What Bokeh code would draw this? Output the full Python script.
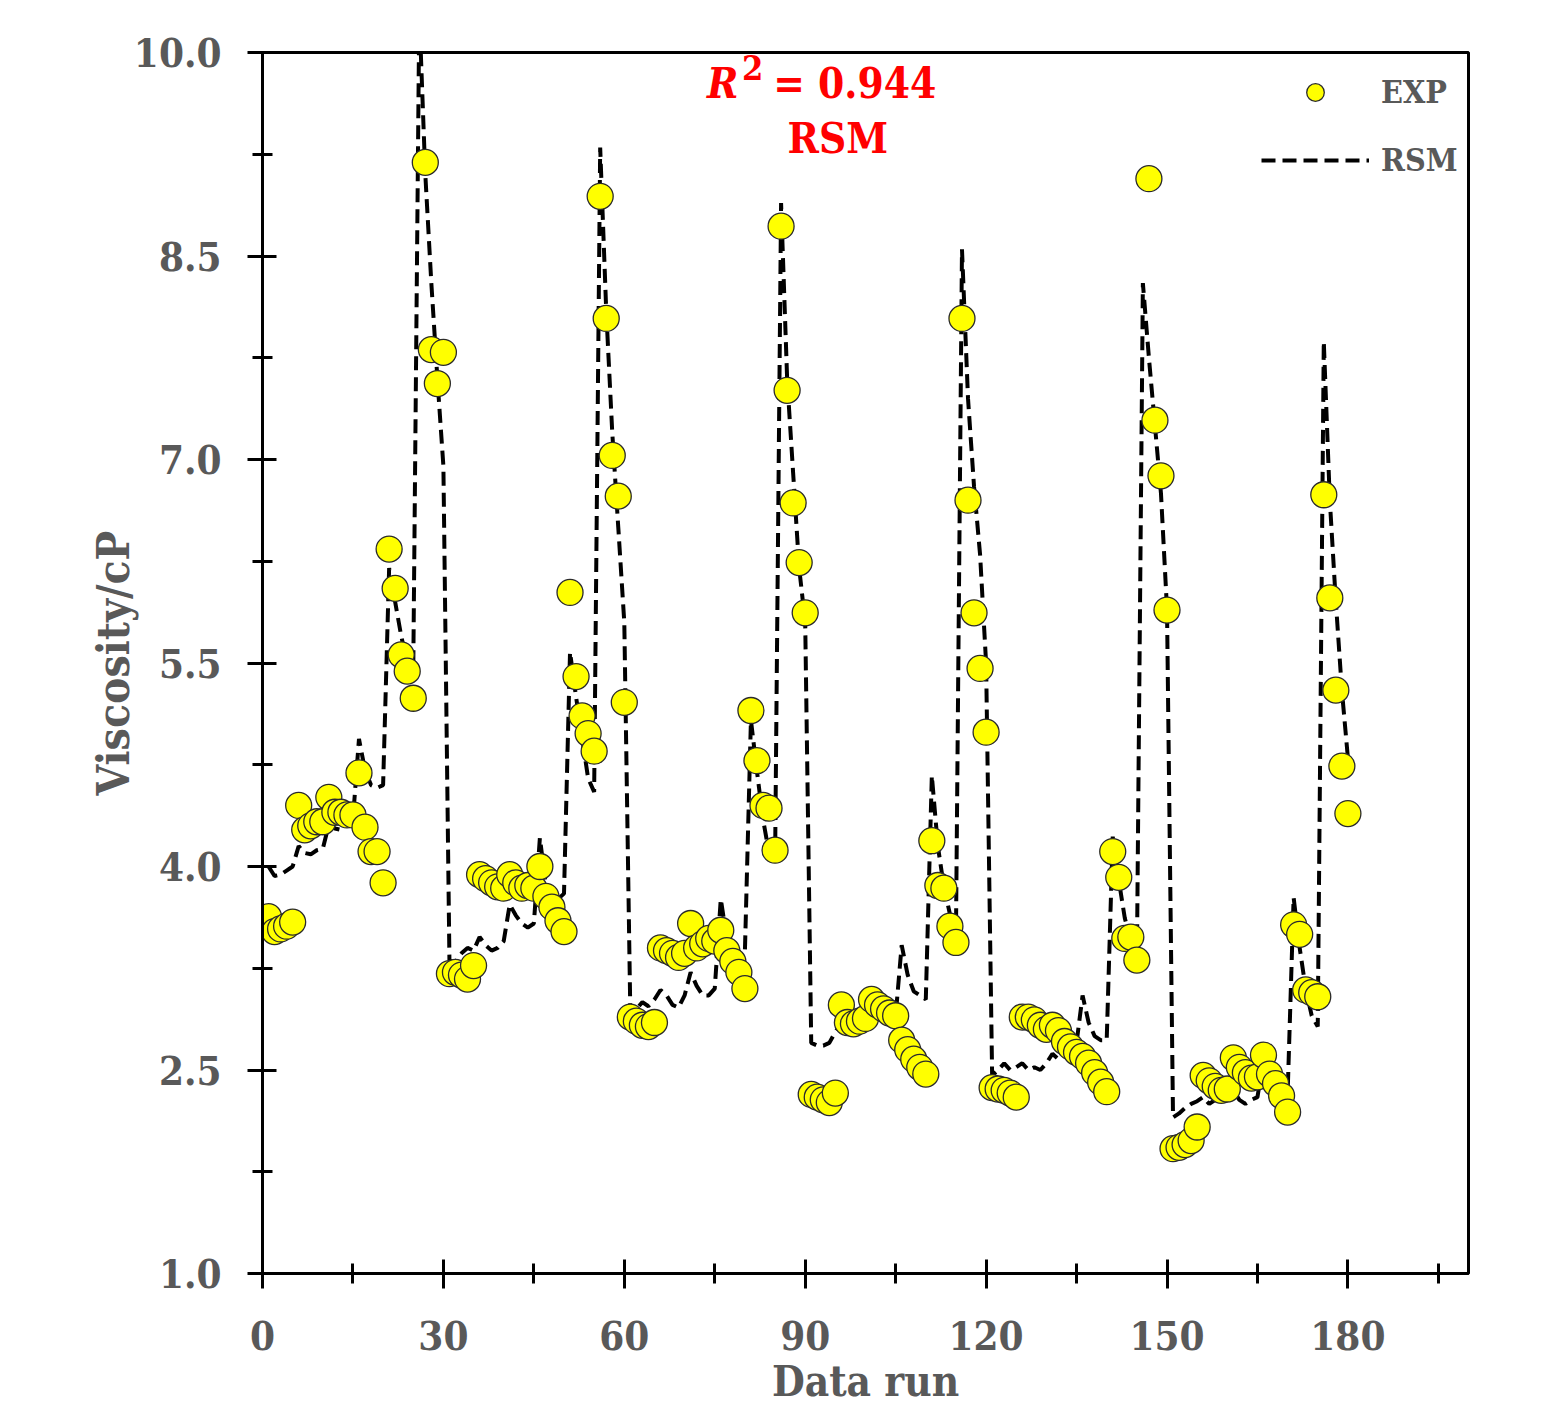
import numpy as np
from bokeh.plotting import figure
from bokeh.models import (FixedTicker, PrintfTickFormatter, Label, Legend,
                          LegendItem, ColumnDataSource)
from bokeh.embed import file_html
from bokeh.resources import INLINE

# ---------------- data ----------------
nan = float("nan")

# experimental viscosity (cP), six blocks of 30 runs
exp_block1 = [3.63, 3.52, 3.54, 3.56, 3.59, 4.45, 4.27, 4.30, 4.33, 4.33,
              4.51, 4.40, 4.40, 4.38, 4.38, 4.69, 4.29, 4.11, 4.11, 3.88,
              6.34, 6.05, 5.56, 5.44, 5.24, nan, 9.19, 7.81, 7.56, 7.79]
exp_block2 = [3.21, 3.22, 3.20, 3.17, 3.27, 3.94, 3.91, 3.88, 3.85, 3.84,
              3.94, 3.88, 3.84, 3.86, 3.84, 4.00, 3.78, 3.70, 3.60, 3.52,
              6.02, 5.40, 5.11, 4.98, 4.85, 8.94, 8.04, 7.03, 6.73, 5.21]
exp_block3 = [2.89, 2.86, 2.83, 2.82, 2.85, 3.40, 3.38, 3.36, 3.33, 3.36,
              3.58, 3.40, 3.43, 3.47, 3.45, 3.53, 3.38, 3.30, 3.22, 3.10,
              5.15, 4.78, 4.45, 4.43, 4.12, 8.72, 7.51, 6.68, 6.24, 5.87]
exp_block4 = [2.32, 2.30, 2.28, 2.26, 2.33, 2.98, 2.85, 2.84, 2.86, 2.88,
              3.02, 2.98, 2.95, 2.92, 2.90, 2.72, 2.65, 2.58, 2.52, 2.47,
              4.19, 3.86, 3.84, 3.56, 3.44, 8.04, 6.70, 5.87, 5.46, 4.99]
exp_block5 = [2.37, 2.36, 2.35, 2.33, 2.30, 2.89, 2.89, 2.87, 2.83, 2.80,
              2.83, 2.79, 2.71, 2.67, 2.63, 2.60, 2.55, 2.48, 2.41, 2.34,
              4.11, 3.92, 3.47, 3.48, 3.31, nan, 9.07, 7.29, 6.88, 5.89]
exp_block6 = [1.92, 1.93, 1.95, 1.98, 2.08, 2.46, 2.42, 2.38, 2.35, 2.36,
              2.59, 2.52, 2.48, 2.44, 2.45, 2.61, 2.47, 2.40, 2.31, 2.19,
              3.57, 3.50, 3.09, 3.07, 3.04, 6.74, 5.98, 5.30, 4.74, 4.39]

# RSM model prediction (cP)
rsm_block1 = [4.00, 3.93, 3.94, 3.97, 4.00, 4.15, 4.10, 4.09, 4.12, 4.13,
              4.31, 4.28, 4.27, 4.31, 4.35, 4.94, 4.71, 4.60, 4.58, 4.60,
              6.20, 5.95, 5.70, 5.50, 5.44, 10.30, 9.10, 8.30, 7.60, 6.95]
rsm_block2 = [3.31, 3.30, 3.36, 3.40, 3.38, 3.48, 3.42, 3.38, 3.40, 3.45,
              3.72, 3.64, 3.58, 3.55, 3.58, 4.21, 3.86, 3.78, 3.76, 3.80,
              5.58, 5.25, 4.95, 4.65, 4.55, 9.30, 8.10, 7.20, 6.50, 5.80]
rsm_block3 = [2.92, 2.95, 3.00, 2.97, 3.02, 3.09, 3.05, 2.98, 2.96, 3.05,
              3.22, 3.12, 3.05, 3.05, 3.10, 3.76, 3.47, 3.40, 3.37, 3.37,
              5.08, 4.70, 4.35, 4.10, 4.02, 8.89, 7.60, 6.90, 6.20, 5.80]
rsm_block4 = [2.70, 2.68, 2.68, 2.70, 2.78, 2.85, 2.83, 2.80, 2.82, 2.82,
              2.92, 2.88, 2.90, 2.92, 2.90, 3.42, 3.20, 3.08, 3.05, 3.02,
              4.67, 4.15, 3.85, 3.65, 3.50, 8.55, 7.45, 6.80, 6.30, 5.50]
rsm_block5 = [2.46, 2.50, 2.55, 2.50, 2.52, 2.55, 2.50, 2.52, 2.50, 2.55,
              2.62, 2.58, 2.62, 2.68, 2.70, 3.05, 2.85, 2.75, 2.72, 2.72,
              4.22, 3.90, 3.62, 3.45, 3.28, 8.30, 7.75, 7.25, 6.75, 5.90]
rsm_block6 = [2.15, 2.18, 2.22, 2.25, 2.27, 2.30, 2.25, 2.28, 2.33, 2.30,
              2.35, 2.28, 2.25, 2.28, 2.30, 2.58, 2.38, 2.30, 2.30, 2.32,
              3.77, 3.40, 3.10, 2.90, 2.82, 7.87, 6.70, 5.95, 5.30, 4.80]

x_major = [0, 30, 60, 90, 120, 150, 180]
x_minor = [15, 45, 75, 105, 135, 165, 195]
y_major = [1.0, 2.5, 4.0, 5.5, 7.0, 8.5, 10.0]
y_minor = [1.75, 3.25, 4.75, 6.25, 7.75, 9.25]

exp_vals = (exp_block1 + exp_block2 + exp_block3 +
            exp_block4 + exp_block5 + exp_block6)
rsm_vals = (rsm_block1 + rsm_block2 + rsm_block3 +
            rsm_block4 + rsm_block5 + rsm_block6)
runs = list(range(1, len(exp_vals) + 1))

src = ColumnDataSource(dict(run=runs, exp=exp_vals, rsm=rsm_vals))

# ---------------- styling ----------------
FONT = "DejaVu Serif Condensed"
GRAY = "#595959"

p = figure(frame_width=1206, frame_height=1221,
           x_range=(0, 200), y_range=(1.0, 10.0),
           output_backend="svg", toolbar_location=None,
           min_border_left=262, min_border_top=52,
           min_border_right=70, min_border_bottom=128,
           background_fill_color="white", border_fill_color="white")

p.xgrid.visible = False
p.ygrid.visible = False
p.outline_line_color = "black"
p.outline_line_width = 3

p.xaxis.ticker = FixedTicker(ticks=x_major, minor_ticks=x_minor)
p.yaxis.ticker = FixedTicker(ticks=y_major, minor_ticks=y_minor)
p.yaxis.formatter = PrintfTickFormatter(format="%.1f")
p.xaxis.formatter = PrintfTickFormatter(format="%d")

for ax in (p.xaxis[0], p.yaxis[0]):
    ax.axis_line_color = "black"
    ax.axis_line_width = 3
    ax.major_tick_line_color = "black"
    ax.major_tick_line_width = 3
    ax.minor_tick_line_color = "black"
    ax.minor_tick_line_width = 3
    ax.major_tick_in = 14
    ax.major_tick_out = 15
    ax.minor_tick_in = 10
    ax.minor_tick_out = 10
    ax.major_label_text_font = FONT
    ax.major_label_text_font_style = "bold"
    ax.major_label_text_font_size = "40px"
    ax.major_label_text_color = GRAY
    ax.axis_label_text_font = FONT
    ax.axis_label_text_font_style = "bold"
    ax.axis_label_text_color = GRAY

p.xaxis.axis_label = "Data run"
p.yaxis.axis_label = "Viscosity/cP"
p.xaxis.axis_label_text_font_size = "42px"
p.yaxis.axis_label_text_font_size = "44px"
p.xaxis.major_label_standoff = 32
p.yaxis.major_label_standoff = 26
p.xaxis.axis_label_standoff = 4
p.yaxis.axis_label_standoff = -8

ln = p.line("run", "rsm", source=src, line_color="black", line_width=4,
            line_dash="14 7")
sc = p.scatter("run", "exp", source=src, size=26, marker="circle",
               fill_color="#FFFF00", line_color="#2b2b2b", line_width=1.3)

legend = Legend(items=[LegendItem(label="EXP", renderers=[sc]),
                       LegendItem(label="RSM", renderers=[ln])],
                location=(999, 1091), border_line_color=None,
                background_fill_alpha=0, glyph_width=108, glyph_height=44,
                label_text_font=FONT, label_text_font_style="bold",
                label_text_font_size="32px", label_text_color=GRAY,
                spacing=24, padding=8, margin=0, label_standoff=12)
p.add_layout(legend)

RED = "#FF0000"
p.add_layout(Label(x=73.7, y=9.768, text="R", text_font=FONT,
                   text_font_style="bold italic", text_font_size="42px",
                   text_color=RED, text_align="left",
                   text_baseline="alphabetic"))
p.add_layout(Label(x=79.5, y=9.886, text="2", text_font=FONT,
                   text_font_style="bold", text_font_size="34px",
                   text_color=RED, text_align="left",
                   text_baseline="alphabetic"))
p.add_layout(Label(x=84.7, y=9.768, text="= 0.944", text_font=FONT,
                   text_font_style="bold", text_font_size="42px",
                   text_color=RED, text_align="left",
                   text_baseline="alphabetic"))
p.add_layout(Label(x=95.4, y=9.368, text="RSM", text_font=FONT,
                   text_font_style="bold", text_font_size="42px",
                   text_color=RED, text_align="center",
                   text_baseline="alphabetic"))

open("out.html", "w").write(file_html(p, INLINE))
